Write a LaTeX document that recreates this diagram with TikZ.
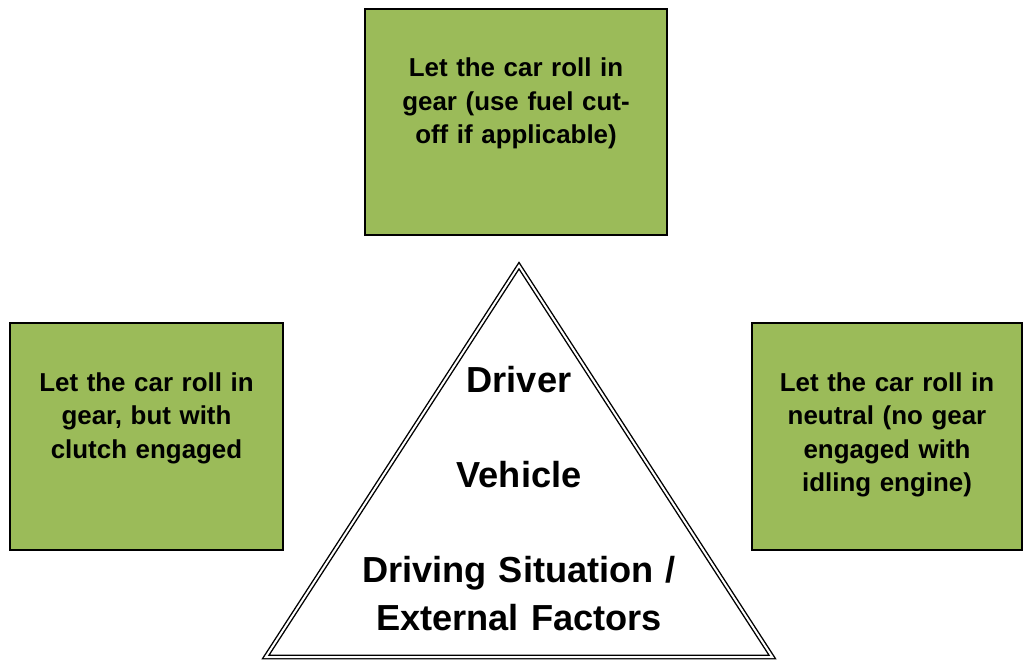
\documentclass[tikz,border=0pt]{standalone}
\usepackage{fontspec}
\setmainfont{Liberation Sans}
\begin{document}
\begin{tikzpicture}[x=1pt,y=-1pt,
  gbox/.style={draw=black, line width=1.3pt, fill=boxgreen, inner sep=0pt},
  boxtext/.style={anchor=base, text width=260pt, align=center, inner sep=0pt,
    font=\fontsize{25.9}{33.5}\selectfont\bfseries},
  tritext/.style={anchor=base, text width=420pt, align=center, inner sep=0pt,
    font=\fontsize{36.2}{48}\selectfont\bfseries}]
\definecolor{boxgreen}{HTML}{9BBB59}
\useasboundingbox (0,0) rectangle (1024,660);
% boxes
\node[gbox, minimum width=302pt, minimum height=226pt] (top) at (516,122) {};
\node[gbox, minimum width=273pt, minimum height=227pt] (left) at (146.5,436.5) {};
\node[gbox, minimum width=270pt, minimum height=227pt] (right) at (887,436.5) {};
\node[boxtext] (toptext) at (516,77) {Let the car roll in\\gear (use fuel cut-\\off if applicable)};
\node[boxtext] (lefttext) at (146.5,391) {Let the car roll in\\gear, but with\\clutch engaged};
\node[boxtext] (righttext) at (887,391) {Let the car roll in\\neutral (no gear\\engaged with\\idling engine)};
% triangle
\coordinate (apex) at (519,265.7);
\coordinate (bl) at (265.7,657);
\coordinate (br) at (772.3,657);
\draw[fill=white, double=white, double distance=2pt, line width=1.4pt, line join=miter] (apex) -- (br) -- (bl) -- cycle;
\node[tritext] (driver) at (519,392) {Driver};
\node[tritext] (vehicle) at (519,487) {Vehicle};
\node[tritext] (situation) at (519,582) {Driving Situation /\\External Factors};
\end{tikzpicture}
\end{document}
